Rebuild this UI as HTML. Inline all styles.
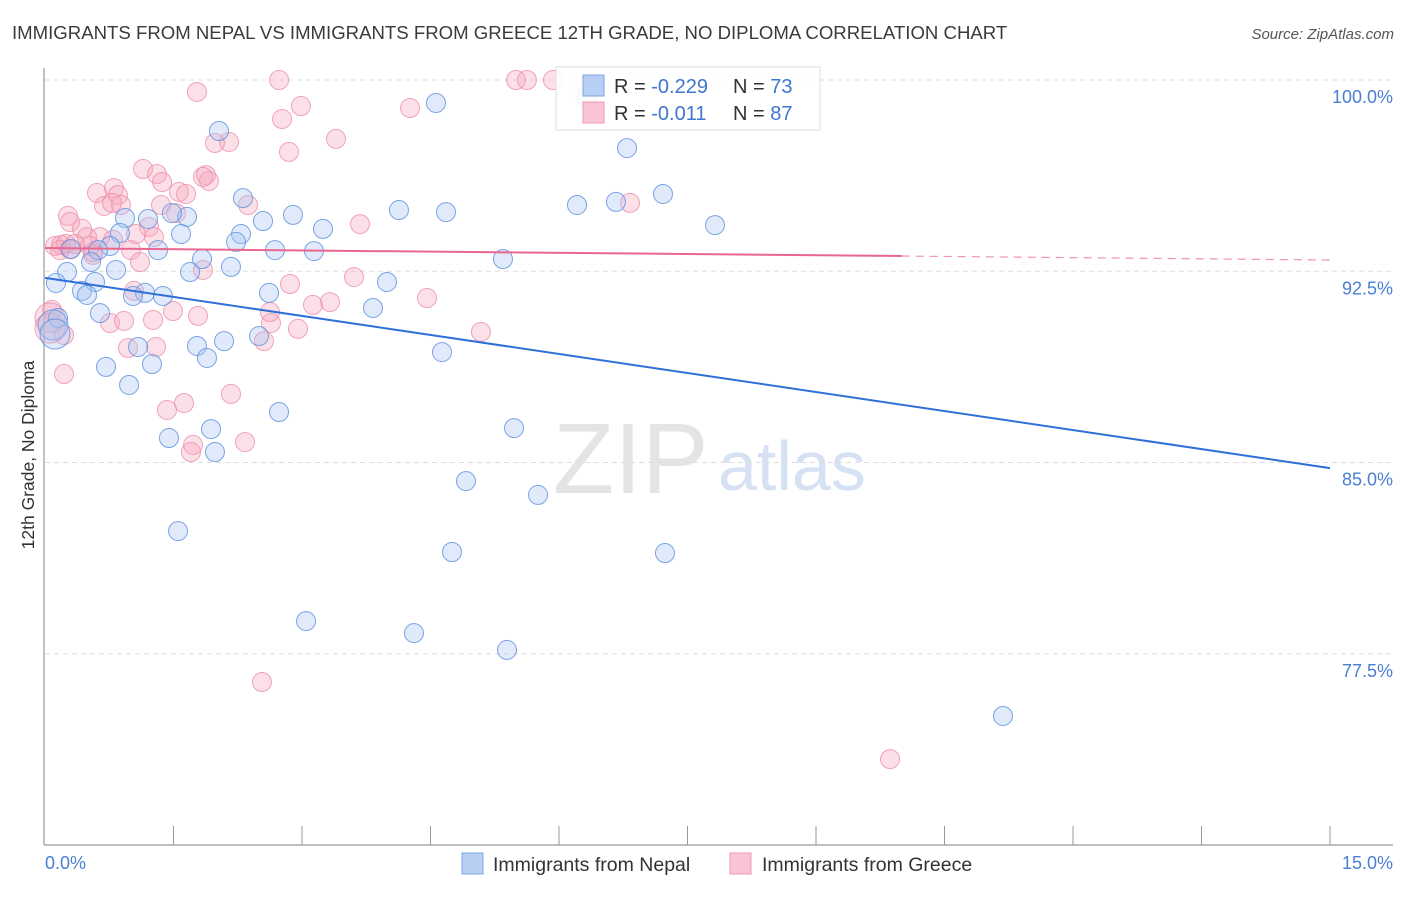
<!DOCTYPE html>
<html><head><meta charset="utf-8"><style>
body{margin:0;background:#fff;}
svg text{font-family:"Liberation Sans",sans-serif;}
</style></head><body>
<svg width="1406" height="892" viewBox="0 0 1406 892" xmlns="http://www.w3.org/2000/svg">
<text x="12" y="39" font-size="18.6" fill="#3a3a3a">IMMIGRANTS FROM NEPAL VS IMMIGRANTS FROM GREECE 12TH GRADE, NO DIPLOMA CORRELATION CHART</text>
<text x="1394" y="39" font-size="15" fill="#555" font-style="italic" text-anchor="end">Source: ZipAtlas.com</text>
<text x="553" y="493" font-size="100" fill="#e4e4e4" font-family="Liberation Serif,serif">ZIP</text>
<text x="718" y="490" font-size="70" fill="#d6e2f4">atlas</text>
<g id="grid"></g>
<g id="axes"></g>
<g id="pts"></g>
<g id="lines"></g>
<text transform="translate(34,455) rotate(-90)" font-size="17.5" fill="#333" text-anchor="middle">12th Grade, No Diploma</text>
<text x="45" y="869" font-size="18" fill="#4a7fd4">0.0%</text>
<text x="1393" y="869" font-size="18" fill="#4a7fd4" text-anchor="end">15.0%</text>
<g>
<rect x="556" y="67" width="264" height="63" fill="#fff" fill-opacity="0.9" stroke="#ddd"/>
<rect x="583" y="75" width="21" height="21" fill="#b7cff3" stroke="#7fa6e6"/>
<rect x="583" y="102" width="21" height="21" fill="#f9c4d3" stroke="#ef9ab4"/>
<text x="614" y="93" font-size="20" fill="#333">R = <tspan fill="#3f76d0">-0.229</tspan></text>
<text x="733" y="93" font-size="20" fill="#333">N = <tspan fill="#3f76d0">73</tspan></text>
<text x="614" y="120" font-size="20" fill="#333">R =  <tspan fill="#3f76d0">-0.011</tspan></text>
<text x="733" y="120" font-size="20" fill="#333">N = <tspan fill="#3f76d0">87</tspan></text>
</g>
<g>
<rect x="462" y="853" width="21" height="21" fill="#b7cff3" stroke="#7fa6e6"/>
<text x="493" y="871" font-size="19.5" fill="#333">Immigrants from Nepal</text>
<rect x="730" y="853" width="21" height="21" fill="#f9c4d3" stroke="#ef9ab4"/>
<text x="762" y="871" font-size="19.5" fill="#333">Immigrants from Greece</text>
</g>
</svg>
<script>
const yTicks=[100,92.5,85,77.5];
const yTickLabels=["100.0%","92.5%","85.0%","77.5%"];
const xTicks=[0,1.5,3,4.5,6,7.5,9,10.5,12,13.5,15];
const nepalX=[4.564,2.031,6.794,7.214,6.210,6.665,7.821,2.311,4.132,4.681,2.895,2.545,0.934,1.202,1.658,1.482,1.588,3.245,0.875,2.288,2.230,0.759,1.319,2.685,3.140,0.304,0.619,1.833,5.346,0.537,2.171,0.829,1.693,0.257,0.128,0.584,3.992,2.615,0.432,0.490,1.167,1.027,1.377,3.829,0.642,0.152,0.093,0.117,1.086,1.774,2.090,2.498,4.634,0.712,1.249,1.891,0.981,2.732,1.447,1.938,5.475,1.984,4.914,5.755,1.553,4.751,7.237,3.047,4.307,5.393,11.183,6.327];
const nepalY=[99.10,98.00,97.33,95.53,95.10,95.22,94.31,95.37,94.90,94.82,94.71,94.47,94.59,94.55,94.63,94.78,93.96,94.16,94.00,93.96,93.65,93.49,93.33,93.33,93.29,93.37,93.33,92.98,92.98,92.86,92.67,92.55,92.47,92.47,92.04,92.08,92.08,91.65,91.73,91.57,91.65,91.53,91.53,91.06,90.86,90.67,90.39,90.04,89.53,89.57,89.76,89.96,89.33,88.75,88.86,89.10,88.04,86.98,85.96,86.31,86.35,85.41,84.27,83.73,82.31,81.49,81.45,78.78,78.31,77.65,75.06,99.29];
const greeceX=[2.732,1.774,5.498,5.626,5.930,2.988,4.261,2.767,2.148,1.984,3.397,2.848,1.144,1.307,1.879,1.366,1.914,1.844,0.607,0.805,0.852,1.564,1.646,0.689,0.887,0.782,1.354,2.370,6.829,0.268,0.292,0.432,0.490,0.642,1.529,1.214,3.677,1.062,1.272,0.794,0.560,0.117,0.187,0.245,1.004,0.525,0.175,1.109,1.844,3.607,2.860,4.459,1.039,1.494,1.786,1.261,0.759,0.922,3.327,3.128,2.638,2.953,5.089,2.626,2.556,0.969,1.296,0.082,0.058,0.058,0.222,1.623,1.424,2.171,1.728,1.704,2.335,2.533,9.864,0.560,0.222,6.303,0.292,0.350];
const greeceY=[100.0,99.53,100,100,100,98.98,98.90,98.47,97.57,97.53,97.69,97.18,96.51,96.31,96.27,96.00,96.04,96.20,95.57,95.76,95.49,95.61,95.53,95.06,95.10,95.18,95.10,95.10,95.18,94.67,94.43,94.16,93.84,93.84,94.78,94.24,94.35,93.96,93.84,93.73,93.25,93.49,93.53,93.57,93.33,93.49,93.33,92.86,92.55,92.27,92.00,91.45,91.73,90.94,90.75,90.59,90.47,90.55,91.29,91.18,90.47,90.24,90.12,90.90,89.76,89.49,89.53,90.98,90.67,90.27,88.47,87.33,87.06,87.69,85.69,85.41,85.80,76.39,73.37,93.14,90.00,99.37,93.37,93.57];
const nepalTrend=[92.24,84.78];
const greeceTrend=[93.41,92.94];
const greeceSolidEnd=10.0;

const NS="http://www.w3.org/2000/svg";
const X0=45,X1=1330,Y100=80,PXPCT=25.5;
function sx(v){return X0+(v/15)*(X1-X0);}
function sy(v){return Y100+(100-v)*PXPCT;}
function mk(tag,attrs,parent){const e=document.createElementNS(NS,tag);for(const k in attrs)e.setAttribute(k,attrs[k]);parent.appendChild(e);return e;}
const grid=document.getElementById('grid'),axes=document.getElementById('axes'),pts=document.getElementById('pts'),lines=document.getElementById('lines');
yTicks.forEach((t,i)=>{
  const l=mk('line',{x1:X0,x2:1393,y1:sy(t),y2:sy(t),stroke:'#ddd','stroke-dasharray':'5,4'},grid);
  
  
  const tx=mk('text',{x:1393,y:sy(t)+23,'font-size':18,fill:'#4a7fd4','text-anchor':'end'},grid);
  tx.textContent=yTickLabels[i];
  
  
});
const ya=mk('line',{x1:44,x2:44,y1:68,y2:845,stroke:'#999','stroke-width':1.2},axes);


const xa=mk('line',{x1:44,x2:1393,y1:845,y2:845,stroke:'#999','stroke-width':1.2},axes);


xTicks.forEach(t=>{
  if(t===0)return;
  const l=mk('line',{x1:sx(t),x2:sx(t),y1:826,y2:845,stroke:'#999'},axes);
  
  
});
function drawPts(xs,ys,fill,stroke,name){
  xs.forEach((x,i)=>{
    const big=(x<0.13&&ys[i]<90.7&&ys[i]>89.9);
    const c=mk('circle',{cx:sx(x),cy:sy(ys[i]),r:big?15:9.5,fill:fill,'fill-opacity':0.35,stroke:stroke,'stroke-opacity':0.8,'stroke-width':1},pts);
    
    
  });
}
drawPts(greeceX,greeceY,'#f6a5bd','#ec8fab','greece-point');
drawPts(nepalX,nepalY,'#a6c3f0','#5b8fe0','nepal-point');
const bl=mk('line',{x1:sx(0),y1:sy(nepalTrend[0]),x2:sx(15),y2:sy(nepalTrend[1]),stroke:'#2f6fd8','stroke-width':2},lines);


const gm=greeceTrend[0]+(greeceTrend[1]-greeceTrend[0])*greeceSolidEnd/15;
const pl=mk('line',{x1:sx(0),y1:sy(greeceTrend[0]),x2:sx(greeceSolidEnd),y2:sy(gm),stroke:'#e8668f','stroke-width':2},lines);


const pd=mk('line',{x1:sx(greeceSolidEnd),y1:sy(gm),x2:sx(15),y2:sy(greeceTrend[1]),stroke:'#e8668f','stroke-width':1.2,'stroke-dasharray':'8,6','stroke-opacity':0.7},lines);


</script>
</body></html>
